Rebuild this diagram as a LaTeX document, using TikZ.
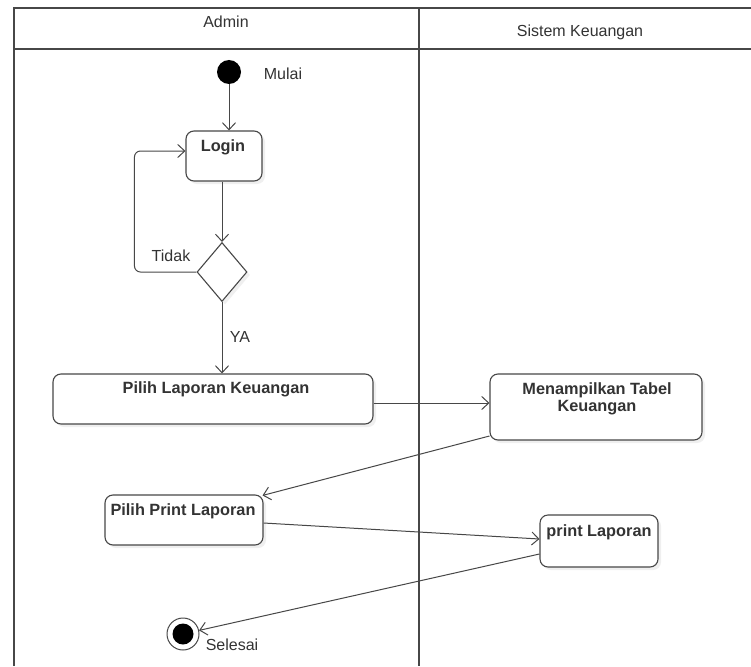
\documentclass[tikz,border=0pt]{standalone}
\usepackage{fontspec}
\setmainfont{Liberation Sans}
\usetikzlibrary{arrows.meta,shadows,shapes.geometric}
\definecolor{ln}{HTML}{474747}
\definecolor{tx}{HTML}{333333}
\begin{document}
\begin{tikzpicture}[x=1pt,y=-1pt,
 lane/.style={draw=ln, line width=1.3pt},
 act/.style={draw=ln, line width=1.1pt, rounded corners=8pt, fill=white,
   drop shadow={shadow xshift=3pt,shadow yshift=-3pt,fill=black!12}, inner sep=0pt},
 acttext/.style={font=\fontsize{16.3}{17.5}\selectfont\bfseries, text=tx, align=center, inner sep=0pt},
 lbl/.style={font=\fontsize{16}{18}\selectfont, text=tx, inner sep=0pt},
 flow/.style={draw=ln, line width=1pt, -{Straight Barb[length=7pt,width=13pt,line width=1pt]}},
]
\useasboundingbox (0,0) rectangle (751,666);
\fill[white] (0,0) rectangle (751,666);
% swimlanes
\draw[lane] (14,666) -- (14,8) -- (751,8);
\draw[lane] (14,49) -- (751,49);
\draw[lane] (419,8) -- (419,666);
\node[lbl] (hAdmin) at (226,22) {Admin};
\node[lbl] (hSistem) at (580,32) {Sistem Keuangan};
% start
\node[circle, fill=black, minimum size=24pt, inner sep=0pt] (start) at (229,72) {};
\node[lbl] (tMulai) at (283,74) {Mulai};
% activities
\node[act, minimum width=76pt, minimum height=50pt] (login) at (224,156) {};
\node[acttext] (tLogin) at (223,147) {Login};
\node[diamond, draw=ln, line width=1.1pt, fill=white, inner sep=0pt,
  minimum width=50pt, minimum height=59pt,
  drop shadow={shadow xshift=3pt,shadow yshift=-3pt,fill=black!12}] (dec) at (222,272) {};
\node[act, minimum width=320pt, minimum height=50pt] (pilihLap) at (213,399) {};
\node[acttext] (tPilihLap) at (216,389) {Pilih Laporan Keuangan};
\node[act, minimum width=212pt, minimum height=66pt] (menamp) at (596,407) {};
\node[acttext] (tMenamp) at (597,399) {Menampilkan Tabel\\Keuangan};
\node[act, minimum width=158pt, minimum height=50pt] (pilihPrint) at (184,520) {};
\node[acttext] (tPilihPrint) at (183,511) {Pilih Print Laporan};
\node[act, minimum width=118pt, minimum height=52pt] (printLap) at (599,541) {};
\node[acttext] (tPrintLap) at (599,532) {print Laporan};
% end
\node[circle, draw=ln, line width=1pt, fill=white, minimum size=32pt, inner sep=0pt] (end) at (183,634) {};
\node[circle, fill=black, minimum size=21pt, inner sep=0pt] (endIn) at (183,634) {};
\node[lbl] (tSelesai) at (232,645) {Selesai};
% labels
\node[lbl] (tTidak) at (171,256) {Tidak};
\node[lbl] (tYa) at (240,337) {YA};
% flows
\draw[flow] (start) -- (start |- login.north);
\draw[flow] (dec.north |- login.south) -- (dec.north);
\draw[flow, rounded corners=6pt] (dec.west) -- ++(-62,0) |- ([yshift=5pt]login.west);
\draw[flow] (dec.south) -- (dec.south |- pilihLap.north);
\draw[flow] ([yshift=-4pt]pilihLap.east) -- ([yshift=4pt]menamp.west);
\draw[flow] ([yshift=-29pt]menamp.west) -- ([xshift=-1pt,yshift=-1pt]pilihPrint.north east);
\draw[flow] ([yshift=-3pt]pilihPrint.east) -- ([yshift=2pt]printLap.west);
\draw[flow] ([yshift=-13pt]printLap.west) -- (end);
\end{tikzpicture}
\end{document}
